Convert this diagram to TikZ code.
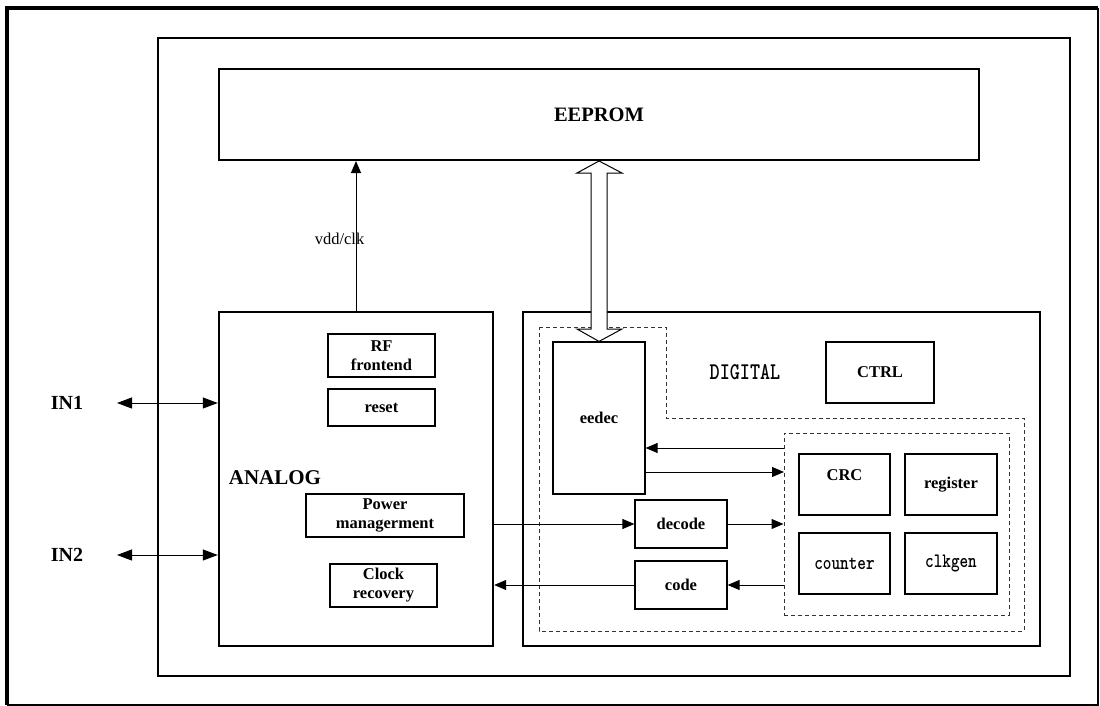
\documentclass[tikz,border=0pt]{standalone}
\usepackage{fontspec}
\setmainfont{Liberation Serif}
\newcommand\monof{\ttfamily\bfseries}
\newcommand\cond[1]{\scalebox{0.8}[1]{#1}}
\usetikzlibrary{arrows.meta}
\newcommand\bx[7]{\node[#1, inner sep=0pt, minimum width={(#4-#2)*1pt}, minimum height={(#5-#3)*1pt}] (#6) at ({(#2+#4)/2},{(#3+#5)/2}) {#7};}
\tikzset{
  bigbox/.style={draw, line width=2.4pt},
  midbox/.style={draw, line width=2pt},
  sbox/.style={draw, line width=1.2pt, align=center, font=\fontsize{16.5}{19}\selectfont\bfseries},
  dashbox/.style={draw=black!80, line width=1pt, dash pattern=on 4pt off 3pt},
  arr/.style={line width=1pt, -{Triangle[length=12pt,width=10pt]}},
  inarr/.style={line width=1pt, {Triangle[length=15pt,width=11pt]}-{Triangle[length=15pt,width=11pt]}},
  lbl/.style={inner sep=0pt, font=\fontsize{16.5}{19}\selectfont\bfseries},
  monobox/.style={font=\fontsize{20.5}{24}\selectfont\monof},
}
\begin{document}
\begin{tikzpicture}[x=1pt, y=-1pt]
\useasboundingbox (0,0) rectangle (1100,706);
% outer frame
\draw[line width=4pt, line join=miter] (7,705) -- (7,8) -- (1098,8);
\draw[line width=2.5pt] (1098,8) -- (1098,705) -- (7,705);
% second frame
\bx{midbox}{158}{38}{1070}{676}{frame}{}
% EEPROM
\bx{midbox, font=\fontsize{20.5}{24}\selectfont\bfseries}{219}{69}{979}{160}{eeprom}{EEPROM}
% analog block
\bx{bigbox}{219}{312}{493}{646}{analog}{}
\node[inner sep=0pt, font=\fontsize{21}{24}\selectfont\bfseries] (analoglbl) at (275,478) {ANALOG};
\bx{sbox}{328}{334}{435}{377}{rf}{RF\\frontend}
\bx{sbox}{328}{389}{435}{426}{reset}{reset}
\bx{sbox}{306}{494}{464}{537}{pm}{Power\\managerment}
\bx{sbox}{330}{564}{437}{607}{clk}{Clock\\recovery}
% digital block
\bx{bigbox}{523}{312}{1040}{646}{digital}{}
\draw[dashbox] (539,327) -- (666,327) -- (666,418) -- (1024,418) -- (1024,631) -- (539,631) -- cycle;
\node[inner sep=0pt, font=\fontsize{24}{28}\selectfont\monof] (digitallbl) at (745,372) {\cond{DIGITAL}};
\bx{sbox}{826}{342}{934}{403}{ctrl}{CTRL}
\bx{sbox}{553}{342}{645}{494}{eedec}{}
\node[lbl] (eedeclbl) at (599,418) {eedec};
\bx{dashbox}{784}{433}{1009}{615}{inner}{}
\bx{sbox}{799}{454}{890}{515}{crc}{}
\node[lbl] (crclbl) at (844.5,475) {CRC};
\bx{sbox}{905}{454}{997}{515}{register}{register}
\bx{sbox, monobox}{799}{533}{890}{594}{counter}{\cond{counter}}
\bx{sbox, monobox}{905}{533}{997}{594}{clkgen}{\cond{clkgen}}
\bx{sbox}{635}{500}{727}{548}{decode}{decode}
\bx{sbox}{635}{561}{727}{609}{code}{code}
% IN labels and arrows
\node[inner sep=0pt, font=\fontsize{20}{24}\selectfont\bfseries] (in1) at (67,403) {IN1};
\node[inner sep=0pt, font=\fontsize{20}{24}\selectfont\bfseries] (in2) at (67,555) {IN2};
\coordinate (in1end) at (117,403);
\coordinate (in2end) at (117,555);
\draw[inarr] (in1end) -- (analog.west |- in1end);
\draw[inarr] (in2end) -- (analog.west |- in2end);
% vdd/clk
\coordinate (vddx) at (356,312);
\draw[arr] (vddx) -- (vddx |- eeprom.south);
\node[inner sep=0pt, font=\fontsize{16.5}{19}\selectfont] (vddlbl) at (339.5,239) {vdd/clk};
% eedec <-> inner
\coordinate (a1) at (784,448);
\coordinate (a2) at (784,472);
\draw[arr] (a1) -- (eedec.east |- a1);
\draw[arr] (eedec.east |- a2) -- (a2);
% decode / code
\draw[arr] (analog.east |- decode) -- (decode.west);
\draw[arr] (decode.east) -- (inner.west |- decode);
\draw[arr] (inner.west |- code) -- (code.east);
\draw[arr] (code.west) -- (analog.east |- code);
% double hollow arrow between EEPROM and eedec
\draw[line width=1pt, fill=white, line join=miter]
  (eeprom.south) -- (622,173) -- (607,173) -- (607,329) -- (622,329) -- (eedec.north)
  -- (577,329) -- (591,329) -- (591,173) -- (577,173) -- cycle;
\end{tikzpicture}
\end{document}
